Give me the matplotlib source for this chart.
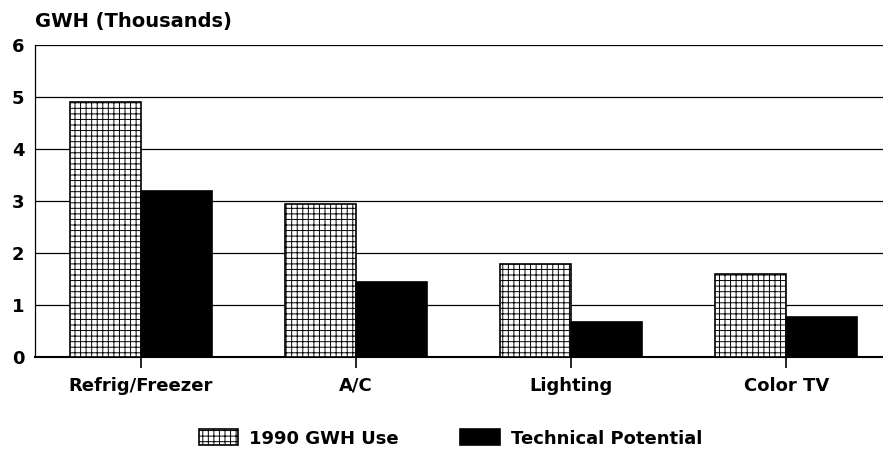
import numpy as np
from matplotlib import pyplot as plt

plt.rcParams['font.family'] = ['DejaVu Sans']
plt.rcParams['font.weight'] = 'bold'
plt.rcParams['hatch.linewidth'] = 0.7

categories = ['Refrig/Freezer', 'A/C', 'Lighting', 'Color TV']
use_1990 = [4.9, 2.95, 1.8, 1.6]
tech_potential = [3.2, 1.45, 0.67, 0.78]

x = np.arange(len(categories))
width = 0.33

fig = plt.figure(figsize=(8.83, 4.75), dpi=100)
ax = fig.add_axes([0.040, 0.248, 0.96, 0.657])

ax.bar(x - width / 2, use_1990, width=width, color='white', edgecolor='black',
       hatch='+++', linewidth=1.2, label='1990 GWH Use', zorder=3)
ax.bar(x + width / 2, tech_potential, width=width, color='black', edgecolor='black',
       linewidth=1.2, label='Technical Potential', zorder=3)

ax.set_ylim(0, 6)
ax.set_xlim(-0.49, 3.45)
ax.set_yticks(range(7))
ax.yaxis.grid(True, color='black', linewidth=0.9)
ax.set_axisbelow(True)

ax.set_xticks(x, categories)
ax.tick_params(axis='x', direction='out', length=8, width=1.2, labelsize=13, pad=6)
ax.tick_params(axis='y', length=0, labelsize=13, pad=8)

for side in ['top', 'right']:
    ax.spines[side].set_visible(False)
ax.spines['bottom'].set_linewidth(1.5)
ax.spines['left'].set_linewidth(0.9)

fig.text(0.040, 0.955, 'GWH (Thousands)', fontsize=14, fontweight='bold', va='center', ha='left')

fig.legend(loc='center', bbox_to_anchor=(0.51, 0.077), ncol=2, frameon=False,
           fontsize=13, handlelength=2.2, handleheight=1.0, handletextpad=0.6,
           columnspacing=3.4)

plt.savefig('out.png', dpi=100)
